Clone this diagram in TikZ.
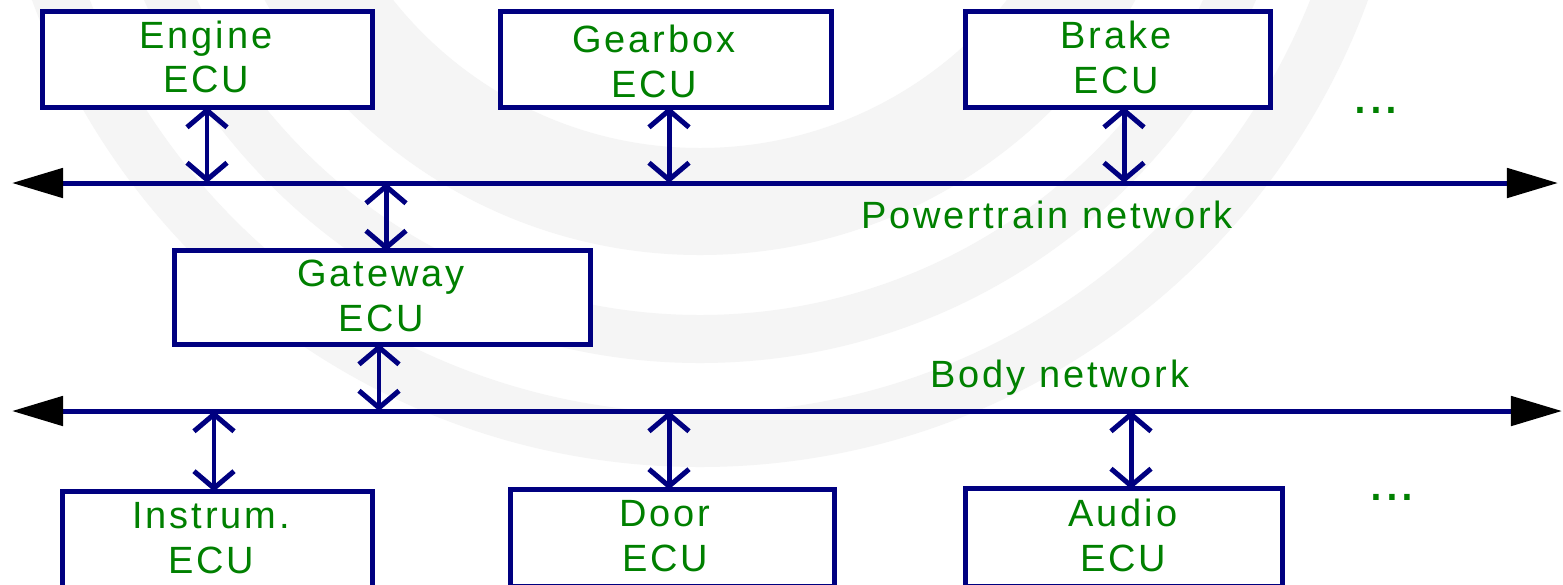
\documentclass[tikz,border=0pt]{standalone}
\usepackage{fontspec}
\setmainfont{Liberation Sans}
\newfontfamily\lsfont[LetterSpace=7.6]{Liberation Sans}
\usetikzlibrary{arrows.meta}
\definecolor{navy}{RGB}{0,0,128}
\definecolor{tgreen}{RGB}{0,128,0}
\definecolor{wm}{RGB}{245,245,245}
\begin{document}
\begin{tikzpicture}[x=0.01cm,y=-0.01cm,
  ecubox/.style={draw=navy,fill=white,line width=1.42pt,inner sep=0pt,outer sep=0pt},
  lbl/.style={text=tgreen,font=\lsfont\fontsize{10.8pt}{12.6pt}\selectfont,align=center,inner sep=0pt,anchor=base},
  dotlbl/.style={text=tgreen,font=\fontsize{16.2pt}{18pt}\selectfont,inner sep=0pt,anchor=base},
  bus/.style={draw=navy,line width=1.42pt,{Triangle[length=0.51cm,width=0.29cm,color=black]}-{Triangle[length=0.51cm,width=0.29cm,color=black]}},
  conn/.style={draw=navy,line width=1.42pt,{Straight Barb[length=0.17cm,width=0.40cm]}-{Straight Barb[length=0.17cm,width=0.40cm]}}]
\useasboundingbox (0,0) rectangle (1563,584);
\fill[white] (0,0) rectangle (1563,584);
\begin{scope}
\clip (0,0) rectangle (1563,584);
\fill[wm,even odd rule] (700,-244) circle[radius=711] (700,-244) circle[radius=657];
\fill[wm,even odd rule] (700,-244) circle[radius=607] (700,-244) circle[radius=559];
\fill[wm,even odd rule] (700,-244) circle[radius=499] (700,-244) circle[radius=392];
\end{scope}
% boxes
\node[ecubox,minimum width=3.30cm,minimum height=0.95cm] (engine) at (207.5,59.5) {};
\node[ecubox,minimum width=3.305cm,minimum height=0.95cm] (gearbox) at (665.75,59.5) {};
\node[ecubox,minimum width=3.04cm,minimum height=0.95cm] (brake) at (1118,59.5) {};
\node[ecubox,minimum width=4.15cm,minimum height=0.93cm] (gateway) at (382.5,297.5) {};
\node[ecubox,minimum width=3.10cm,minimum height=0.96cm] (instrum) at (217.5,539.5) {};
\node[ecubox,minimum width=3.23cm,minimum height=0.97cm] (door) at (672.5,538) {};
\node[ecubox,minimum width=3.16cm,minimum height=0.97cm] (audio) at (1124,537.5) {};
% labels (anchor = baseline of the last line)
\node[lbl] (engineT) at (206,92.5) {Engine\\ECU};
\node[lbl] (gearboxT) at (654,97) {Gearbox\\ECU};
\node[lbl] (brakeT) at (1116,93) {Brake\\ECU};
\node[lbl] (gatewayT) at (381,331) {Gateway\\ECU};
\node[lbl] (instrumT) at (211,573) {Instrum.\\ECU};
\node[lbl] (doorT) at (665,571) {Door\\ECU};
\node[lbl] (audioT) at (1123,571) {Audio\\ECU};
\node[lbl] (ptT) at (1047,228) {Powertrain network};
\node[lbl] (bodyT) at (1060,387) {Body network};
\node[dotlbl] (dots1) at (1376,113) {...};
\node[dotlbl] (dots2) at (1392,500) {...};
% buses
\coordinate (pL) at (12,183);
\coordinate (pR) at (1558,183);
\coordinate (bL) at (12,411);
\coordinate (bR) at (1562,411);
\draw[bus] (pL) -- (pR);
\draw[bus] (bL) -- (bR);
% connectors
\draw[conn] ([xshift=-0.005cm]engine.south) -- ([xshift=-0.005cm]engine.south |- pL);
\draw[conn] ([xshift=0.0325cm]gearbox.south) -- ([xshift=0.0325cm]gearbox.south |- pL);
\draw[conn] ([xshift=0.06cm]brake.south) -- ([xshift=0.06cm]brake.south |- pL);
\draw[conn] ([xshift=0.035cm]gateway.north |- pL) -- ([xshift=0.035cm]gateway.north);
\draw[conn] ([xshift=-0.035cm]gateway.south) -- ([xshift=-0.035cm]gateway.south |- bL);
\draw[conn] ([xshift=-0.035cm]instrum.north |- bL) -- ([xshift=-0.035cm]instrum.north);
\draw[conn] ([xshift=-0.035cm]door.north |- bL) -- ([xshift=-0.035cm]door.north);
\draw[conn] ([xshift=0.07cm]audio.north |- bL) -- ([xshift=0.07cm]audio.north);
\end{tikzpicture}
\end{document}
